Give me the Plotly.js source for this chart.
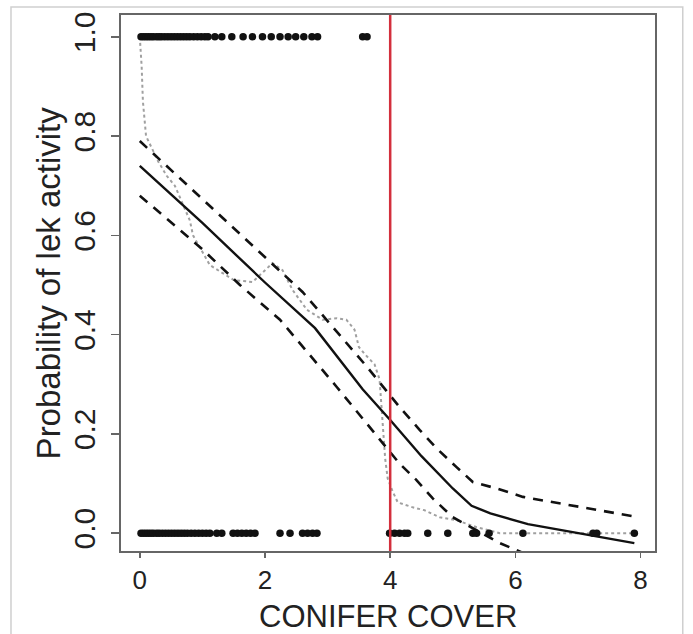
<!DOCTYPE html>
<html>
<head>
<meta charset="utf-8">
<script src="https://cdn.plot.ly/plotly-3.0.1.min.js"></script>
<style>
html,body{margin:0;padding:0;background:#fff;}
#chart{width:693px;height:634px;}
</style>
</head>
<body>
<div id="chart"></div>
<script>
// Observed leks: active (y = 1) and inactive (y = 0) against conifer cover
const activeX = [0.02,0.06,0.10,0.14,0.18,0.22,0.27,0.31,0.35,0.40,0.45,0.50,0.55,0.60,0.65,0.70,0.75,0.80,0.86,0.92,0.98,1.04,1.09,1.20,1.31,1.47,1.65,1.80,1.96,2.10,2.24,2.37,2.49,2.62,2.75,2.84,3.56,3.63];
const activeY = activeX.map(() => 1);
const inactiveX = [0.02,0.06,0.10,0.14,0.18,0.22,0.27,0.31,0.36,0.41,0.46,0.51,0.56,0.61,0.66,0.71,0.76,0.82,0.88,0.94,1.00,1.06,1.12,1.23,1.31,1.49,1.56,1.63,1.70,1.77,1.84,2.24,2.40,2.60,2.68,2.76,2.83,3.99,4.07,4.15,4.23,4.28,4.60,4.92,5.32,5.38,5.58,6.12,7.24,7.30,7.90];
const inactiveY = inactiveX.map(() => 0);

// Fitted probability and confidence limits
const fitX = [0.0,1.0,2.0,2.8,3.56,4.0,4.5,5.0,5.3,5.6,6.2,7.0,7.9];
const fitY = [0.74,0.625,0.505,0.413,0.29,0.228,0.155,0.09,0.055,0.04,0.018,0.0,-0.02];
const upperX = [0.0,1.0,2.0,2.6,3.63,4.15,4.47,4.74,5.06,5.32,5.7,6.12,7.88];
const upperY = [0.79,0.673,0.556,0.486,0.335,0.254,0.208,0.171,0.133,0.103,0.09,0.073,0.034];
const lowerX = [0.0,1.0,1.6,2.24,3.15,3.83,4.15,4.42,4.68,5.0,5.75,6.5];
const lowerY = [0.68,0.572,0.50,0.43,0.294,0.19,0.14,0.107,0.07,0.032,-0.02,-0.06];

// Empirical (smoothed) proportion, dotted grey
const empX = [0.0,0.03,0.05,0.1,0.29,0.43,0.56,0.8,0.85,1.12,1.5,1.8,1.97,2.12,2.28,2.44,2.67,2.92,3.15,3.3,3.43,3.5,3.6,3.75,3.83,3.88,3.92,3.96,4.03,4.12,4.36,4.55,4.79,5.06,5.38,5.75,7.9];
const empY = [1.0,0.94,0.87,0.80,0.75,0.72,0.70,0.63,0.60,0.54,0.51,0.506,0.526,0.544,0.53,0.49,0.45,0.43,0.433,0.43,0.41,0.375,0.36,0.34,0.31,0.22,0.15,0.11,0.087,0.062,0.052,0.046,0.032,0.026,0.012,0.0,0.0];

const threshold = 4;
const xTitle = 'CONIFER COVER';
const yTitle = 'Probability of lek activity';

const traces = [
  {x: empX, y: empY, mode: 'lines', line: {color: '#a0a0a0', width: 2, dash: 'dot'}, hoverinfo: 'skip'},
  {x: upperX, y: upperY, mode: 'lines', line: {color: '#111', width: 2.6, dash: '10px,8px'}, hoverinfo: 'skip'},
  {x: lowerX, y: lowerY, mode: 'lines', line: {color: '#111', width: 2.6, dash: '10px,8px'}, hoverinfo: 'skip'},
  {x: fitX, y: fitY, mode: 'lines', line: {color: '#111', width: 2.4}, hoverinfo: 'skip'},
  {x: activeX, y: activeY, mode: 'markers', marker: {color: '#111', size: 7.5}},
  {x: inactiveX, y: inactiveY, mode: 'markers', marker: {color: '#111', size: 7.5}}
];

const layout = {
  width: 693, height: 634,
  margin: {l: 121, r: 38, t: 15, b: 83},
  paper_bgcolor: '#fff', plot_bgcolor: '#fff',
  showlegend: false,
  font: {family: 'Liberation Sans, Arial, sans-serif', color: '#222'},
  xaxis: {
    range: [-0.3, 8.23], tickvals: [0,2,4,6,8], ticktext: ['0','2','4','6','8'],
    showgrid: false, zeroline: false, showline: true, mirror: true,
    linecolor: '#666', linewidth: 2, ticks: 'outside', ticklen: 5, tickcolor: '#666', tickwidth: 1.5,
    tickfont: {size: 26, color: '#222'}
  },
  yaxis: {
    range: [-0.036, 1.044], tickvals: [0,0.2,0.4,0.6,0.8,1.0], ticktext: ['0.0','0.2','0.4','0.6','0.8','1.0'],
    showgrid: false, zeroline: false, showline: true, mirror: true,
    linecolor: '#666', linewidth: 2, ticks: 'outside', ticklen: 8, tickcolor: '#666', tickwidth: 1.5,
    tickangle: -90, tickfont: {size: 30, color: '#222'}, ticklabelstandoff: 4
  },
  annotations: [
    {text: xTitle, xref: 'paper', yref: 'paper', x: 0.5, y: -0.122, xanchor: 'center', yanchor: 'middle',
     showarrow: false, font: {size: 31, color: '#222'}},
    {text: yTitle, xref: 'paper', yref: 'paper', x: -0.136, y: 0.5, xanchor: 'center', yanchor: 'middle',
     textangle: -90, showarrow: false, font: {size: 33, color: '#222'}}
  ],
  shapes: [
    {type: 'line', xref: 'x', yref: 'paper', x0: threshold, x1: threshold, y0: 0, y1: 1,
     line: {color: '#d32f3c', width: 2.5}},
    {type: 'rect', xref: 'paper', yref: 'paper', x0: -0.206, x1: 1.052, y0: -0.2, y1: 1.015,
     line: {color: '#cfcfcf', width: 1.5}, layer: 'below'}
  ]
};

Plotly.newPlot('chart', traces, layout, {displayModeBar: false, staticPlot: true});
</script>
</body>
</html>
